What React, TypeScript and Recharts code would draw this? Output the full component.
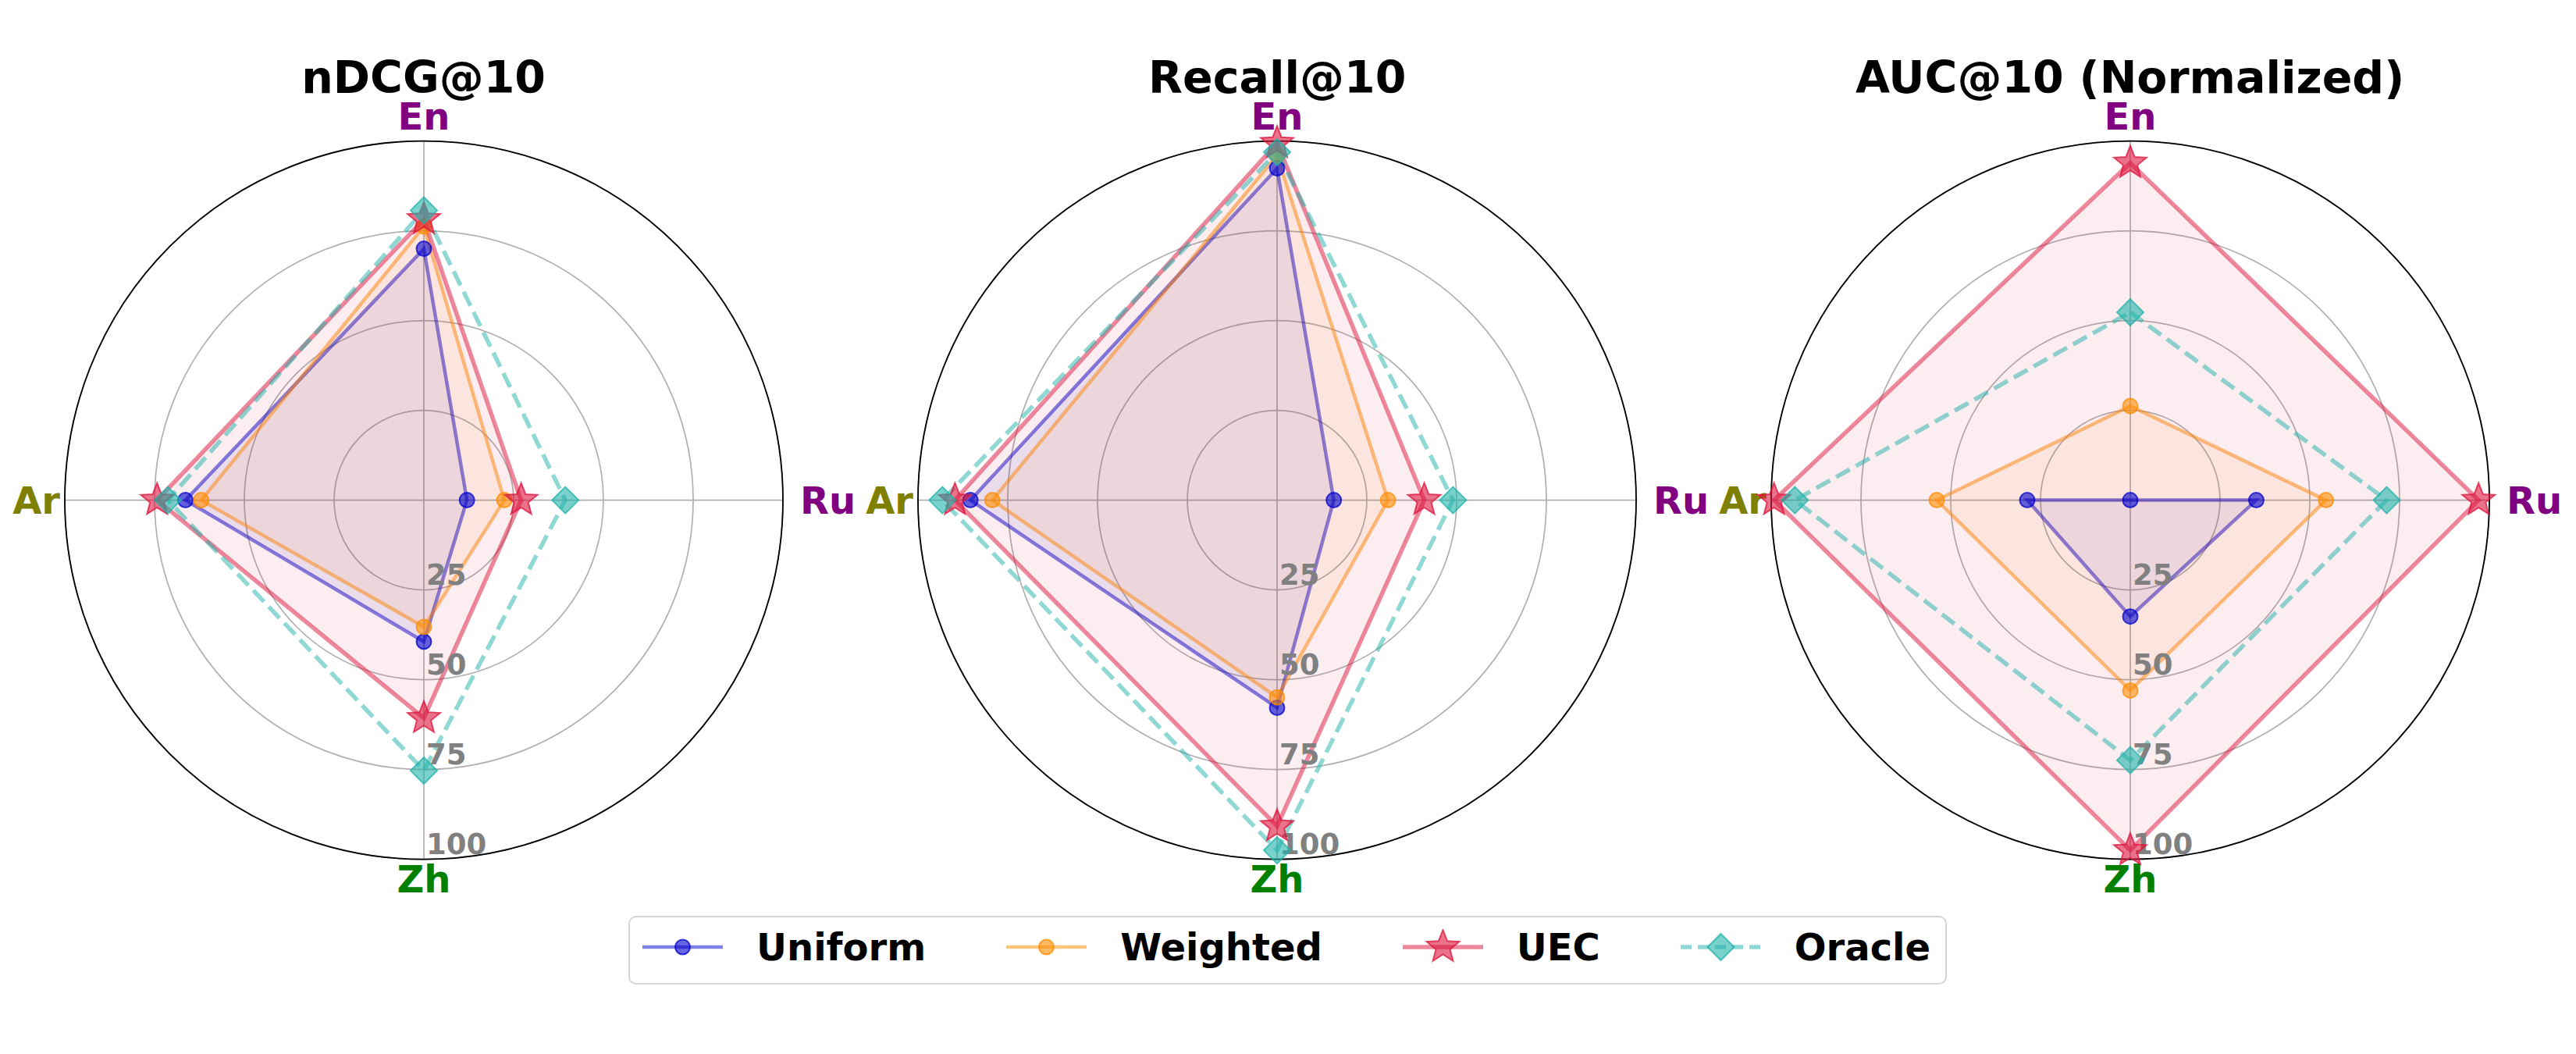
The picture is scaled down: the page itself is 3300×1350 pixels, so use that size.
import React from "react";
import {
  RadarChart,
  Radar,
  PolarGrid,
  PolarAngleAxis,
  PolarRadiusAxis,
} from "recharts";

const LANGS = ["En", "Ru", "Zh", "Ar"];
const TITLES = ["nDCG@10", "Recall@10", "AUC@10 (Normalized)"];
const METHOD_NAMES = ["Uniform", "Weighted", "UEC", "Oracle"];

// values per language, in LANGS order
const NDCG_UNIFORM = [70.0, 12.0, 39.4, 66.4];
const NDCG_WEIGHTED = [76.2, 22.4, 35.3, 62.0];
const NDCG_UEC = [78.2, 27.1, 60.7, 74.3];
const NDCG_ORACLE = [80.7, 39.4, 75.3, 71.3];

const RECALL_UNIFORM = [92.4, 15.8, 57.8, 85.4];
const RECALL_WEIGHTED = [96.0, 30.9, 54.9, 79.3];
const RECALL_UEC = [99.4, 41.0, 90.8, 89.7];
const RECALL_ORACLE = [96.9, 49.0, 97.5, 93.2];

const AUC_UNIFORM = [0.0, 35.1, 32.4, 28.7];
const AUC_WEIGHTED = [26.2, 54.5, 53.0, 53.9];
const AUC_UEC = [93.9, 97.0, 97.5, 99.2];
const AUC_ORACLE = [52.3, 71.4, 72.4, 93.4];

const PANEL_SERIES = [
  [NDCG_UNIFORM, NDCG_WEIGHTED, NDCG_UEC, NDCG_ORACLE],
  [RECALL_UNIFORM, RECALL_WEIGHTED, RECALL_UEC, RECALL_ORACLE],
  [AUC_UNIFORM, AUC_WEIGHTED, AUC_UEC, AUC_ORACLE],
];

const FONT = "'DejaVu Sans', sans-serif";
const R = 460;
const CENTERS_X = [542.6, 1636.2, 2728.6];
const CENTER_Y = 640.6;
const BOX_W = 1200;

const LABEL_COLORS: Record<string, string> = {
  En: "#800080",
  Ru: "#800080",
  Zh: "#008000",
  Ar: "#808000",
};

type Style = {
  color: string;
  marker: "circle" | "star" | "diamond";
  width: number;
  dash?: string;
  fillOpacity: number;
};

const STYLES: Style[] = [
  { color: "#0000CD", marker: "circle", width: 4.5, fillOpacity: 0.07 },
  { color: "#FF8C00", marker: "circle", width: 4.5, fillOpacity: 0.07 },
  { color: "#DC143C", marker: "star", width: 5.5, fillOpacity: 0.08 },
  { color: "#20B2AA", marker: "diamond", width: 5.5, dash: "20 9", fillOpacity: 0 },
];

function starPoints(cx: number, cy: number, ro: number, ri: number) {
  const pts: string[] = [];
  for (let i = 0; i < 10; i++) {
    const r = i % 2 === 0 ? ro : ri;
    const a = (Math.PI / 5) * i - Math.PI / 2;
    pts.push(`${cx + r * Math.cos(a)},${cy + r * Math.sin(a)}`);
  }
  return pts.join(" ");
}

function Marker({ kind, cx, cy, color }: { kind: Style["marker"]; cx: number; cy: number; color: string }) {
  const common = {
    fill: color,
    fillOpacity: 0.6,
    stroke: color,
    strokeOpacity: 0.75,
    strokeWidth: 2,
  };
  if (kind === "circle") return <circle cx={cx} cy={cy} r={9.5} {...common} />;
  if (kind === "star") return <polygon points={starPoints(cx, cy, 22, 9.5)} {...common} />;
  return (
    <polygon
      points={`${cx},${cy - 17} ${cx + 17},${cy} ${cx},${cy + 17} ${cx - 17},${cy}`}
      {...common}
    />
  );
}

function AngleTick(props: any) {
  const { x, y, payload } = props;
  const v = String(payload.value);
  let dx = 0;
  let dy = 0;
  let anchor: "middle" | "start" | "end" = "middle";
  if (v === "En") dy = -7;
  else if (v === "Zh") dy = 34;
  else if (v === "Ar") {
    anchor = "end";
    dx = 2;
    dy = 17;
  } else {
    anchor = "start";
    dx = 14;
    dy = 17;
  }
  return (
    <text
      x={x + dx}
      y={y + dy}
      textAnchor={anchor}
      fill={LABEL_COLORS[v]}
      fontSize={48}
      fontWeight="bold"
      fontFamily={FONT}
    >
      {v}
    </text>
  );
}

function RadiusTick(props: any) {
  const { x, y, payload } = props;
  if (payload.value === 0) return <g />;
  return (
    <text
      x={x + 3}
      y={y - 7}
      textAnchor="start"
      fill="#808080"
      fontSize={37}
      fontWeight="bold"
      fontFamily={FONT}
    >
      {payload.value}
    </text>
  );
}

function Panel({ index }: { index: number }) {
  const series = PANEL_SERIES[index];
  const rows = LANGS.map((lang, i) => {
    const row: Record<string, string | number> = { lang };
    METHOD_NAMES.forEach((m, j) => (row[m] = series[j][i]));
    return row;
  });
  const cx = BOX_W / 2;
  return (
    <div style={{ position: "absolute", left: CENTERS_X[index] - cx, top: 0 }}>
      <RadarChart
        width={BOX_W}
        height={1350}
        data={rows}
        cx={cx}
        cy={CENTER_Y}
        outerRadius={R}
        margin={{ top: 0, right: 0, bottom: 0, left: 0 }}
      >
        <PolarGrid gridType="circle" stroke="#b0b0b0" strokeWidth={1.7} />
        <PolarAngleAxis
          dataKey="lang"
          tick={AngleTick}
          tickLine={false}
          axisLineType="circle"
          axisLine={{ stroke: "#000000", strokeWidth: 1.8 }}
        />
        {METHOD_NAMES.map((m, j) => {
          const s = STYLES[j];
          return (
            <Radar
              key={m}
              name={m}
              dataKey={m}
              stroke={s.color}
              strokeOpacity={0.5}
              strokeWidth={s.width}
              strokeDasharray={s.dash}
              fill={s.color}
              fillOpacity={s.fillOpacity}
              isAnimationActive={false}
              dot={(p: any) => (
                <Marker key={`${m}-${p.index}`} kind={s.marker} cx={p.cx} cy={p.cy} color={s.color} />
              )}
            />
          );
        })}
        <PolarRadiusAxis
          angle={-90}
          domain={[0, 100]}
          tickCount={5}
          axisLine={false}
          tickLine={false}
          tick={RadiusTick}
        />
      </RadarChart>
    </div>
  );
}

function LegendHandle({ style }: { style: Style }) {
  return (
    <svg width={103} height={46} style={{ display: "block" }}>
      <line
        x1={0}
        y1={23}
        x2={103}
        y2={23}
        stroke={style.color}
        strokeOpacity={0.5}
        strokeWidth={style.width}
        strokeDasharray={style.dash === undefined ? undefined : "14 8"}
      />
      <Marker kind={style.marker} cx={51.5} cy={23} color={style.color} />
    </svg>
  );
}

export default function App() {
  return (
    <div
      style={{
        position: "absolute",
        left: 0,
        top: 0,
        width: 3300,
        height: 1350,
        background: "#ffffff",
        fontFamily: FONT,
        overflow: "hidden",
      }}
    >
      <svg width={3300} height={200} style={{ position: "absolute", left: 0, top: 0 }}>
        {TITLES.map((t, i) => (
          <text
            key={t}
            x={CENTERS_X[i]}
            y={119}
            textAnchor="middle"
            fontSize={57}
            fontWeight="bold"
            fontFamily={FONT}
            fill="#000000"
          >
            {t}
          </text>
        ))}
      </svg>
      {TITLES.map((t, i) => (
        <Panel key={t} index={i} />
      ))}
      <div
        style={{
          position: "absolute",
          left: 805,
          top: 1173,
          width: 1689,
          height: 88,
          boxSizing: "border-box",
          border: "2.5px solid #d6d6d6",
          borderRadius: 10,
          background: "#ffffff",
          display: "flex",
          alignItems: "center",
          paddingLeft: 16,
          paddingBottom: 8,
        }}
      >
        {METHOD_NAMES.map((m, j) => (
          <div key={m} style={{ display: "flex", alignItems: "center", marginRight: 103 }}>
            <LegendHandle style={STYLES[j]} />
            <span
              style={{
                marginLeft: 43,
                fontSize: 48,
                fontWeight: "bold",
                color: "#000000",
                whiteSpace: "nowrap",
              }}
            >
              {m}
            </span>
          </div>
        ))}
      </div>
    </div>
  );
}
